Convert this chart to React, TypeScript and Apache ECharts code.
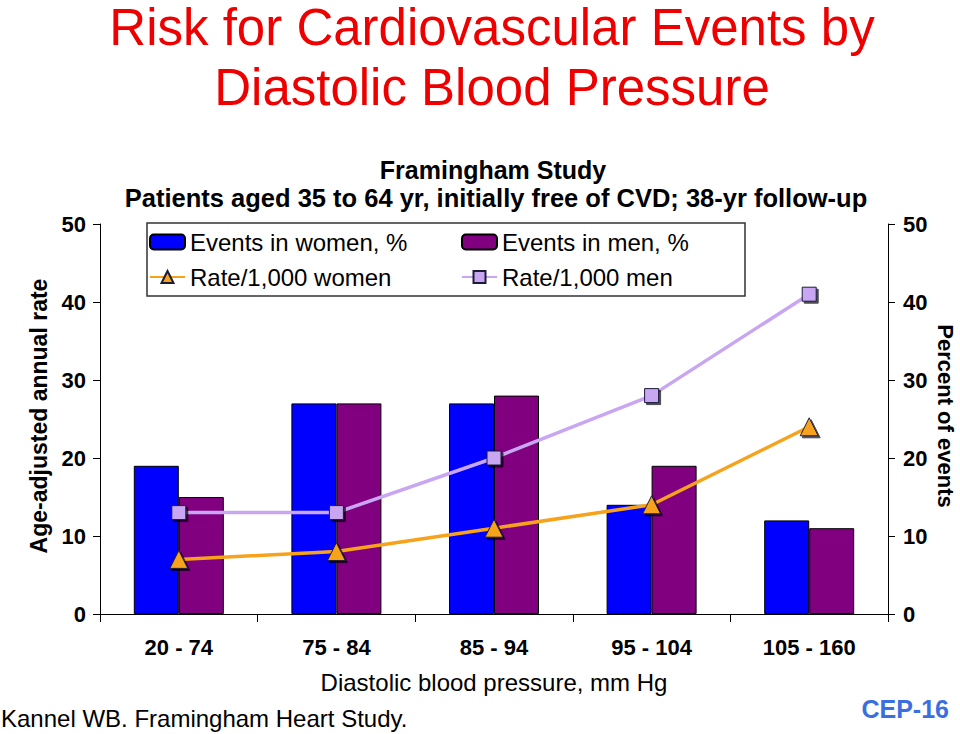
import React, { useEffect, useRef } from "react";
import * as echarts from "echarts";

const categories = ["20 - 74", "75 - 84", "85 - 94", "95 - 104", "105 - 160"];
const eventsWomen = [19, 27, 27, 14, 12];
const eventsMen = [15, 27, 28, 19, 11];
const rateWomen = [7, 8, 11, 14, 24];
const rateMen = [13, 13, 20, 28, 41];

const FONT = "Liberation Sans, Arial, sans-serif";

export default function App() {
  const ref = useRef<HTMLDivElement>(null);
  useEffect(() => {
    document.body.style.margin = "0";
    const chart = echarts.init(ref.current!, null, { renderer: "svg" });
    const markerShadow = {
      shadowColor: "rgba(0,0,0,0.7)",
      shadowOffsetX: 2,
      shadowOffsetY: 2,
      shadowBlur: 0,
    };
    const legendBase = {
      orient: "horizontal",
      itemWidth: 35,
      itemHeight: 15,
      itemGap: 8,
      textStyle: { fontFamily: FONT, fontSize: 24, color: "#000" },
      padding: 0,
    };
    chart.setOption({
      animation: false,
      backgroundColor: "#fff",
      grid: { left: 100, right: 72, top: 224, bottom: 120, containLabel: false },
      legend: [
        { ...legendBase, left: 149, top: 230, data: ["Events in women, %"] },
        { ...legendBase, left: 461, top: 230, data: ["Events in men, %"] },
        { ...legendBase, left: 149, top: 265, data: ["Rate/1,000 women"] },
        { ...legendBase, left: 461, top: 265, data: ["Rate/1,000 men"] },
      ],
      xAxis: {
        type: "category",
        data: categories,
        axisLine: { lineStyle: { color: "#000", width: 1 } },
        axisTick: { show: true, length: 8, lineStyle: { color: "#000" } },
        axisLabel: {
          color: "#000",
          fontFamily: FONT,
          fontSize: 22,
          fontWeight: "bold",
          margin: 22,
        },
      },
      yAxis: [
        {
          type: "value",
          min: 0,
          max: 50,
          interval: 10,
          position: "left",
          axisLine: { show: true, lineStyle: { color: "#000" } },
          axisTick: { show: true, length: 7, lineStyle: { color: "#000" } },
          axisLabel: {
            color: "#000",
            fontFamily: FONT,
            fontSize: 22,
            fontWeight: "bold",
            margin: 14,
          },
          splitLine: { show: false },
        },
        {
          type: "value",
          min: 0,
          max: 50,
          interval: 10,
          position: "right",
          axisLine: { show: true, lineStyle: { color: "#000" } },
          axisTick: { show: true, length: 7, lineStyle: { color: "#000" } },
          axisLabel: {
            color: "#000",
            fontFamily: FONT,
            fontSize: 22,
            fontWeight: "bold",
            margin: 15,
          },
          splitLine: { show: false },
        },
      ],
      series: [
        {
          name: "Events in women, %",
          type: "bar",
          yAxisIndex: 1,
          data: eventsWomen,
          barWidth: 45,
          barGap: "0%",
          itemStyle: { color: "#0000FF", borderColor: "#000", borderWidth: 1 },
        },
        {
          name: "Events in men, %",
          type: "bar",
          yAxisIndex: 1,
          data: eventsMen,
          barWidth: 45,
          barGap: "0%",
          itemStyle: { color: "#800080", borderColor: "#000", borderWidth: 1 },
        },
        {
          name: "Rate/1,000 women",
          type: "line",
          yAxisIndex: 0,
          data: rateWomen,
          symbol: "triangle",
          symbolSize: 18,
          z: 5,
          lineStyle: { color: "#F7A21B", width: 3.5 },
          itemStyle: {
            color: "#F7A21B",
            borderColor: "#1b1b3a",
            borderWidth: 1,
            ...markerShadow,
          },
        },
        {
          name: "Rate/1,000 men",
          type: "line",
          yAxisIndex: 0,
          data: rateMen,
          symbol: "rect",
          symbolSize: 14,
          z: 5,
          lineStyle: { color: "#C9A6F2", width: 3.5 },
          itemStyle: {
            color: "#C9A6F2",
            borderColor: "#1b1b3a",
            borderWidth: 1,
            ...markerShadow,
          },
        },
      ],
      graphic: [
        {
          type: "text",
          x: 492,
          y: 57,
          style: {
            text: "Risk for Cardiovascular Events by\nDiastolic Blood Pressure",
            fill: "#EE0000",
            font: `51px ${FONT}`,
            lineHeight: 60,
            align: "center",
            verticalAlign: "middle",
          },
        },
        {
          type: "text",
          x: 493,
          y: 170,
          style: {
            text: "Framingham Study",
            fill: "#000",
            font: `bold 25px ${FONT}`,
            align: "center",
            verticalAlign: "middle",
          },
        },
        {
          type: "text",
          x: 496,
          y: 198,
          style: {
            text: "Patients aged 35 to 64 yr, initially free of CVD; 38-yr follow-up",
            fill: "#000",
            font: `bold 25.5px ${FONT}`,
            align: "center",
            verticalAlign: "middle",
          },
        },
        {
          type: "rect",
          shape: { x: 147, y: 223, width: 598, height: 73 },
          style: { fill: "none", stroke: "#333", lineWidth: 1.5 },
          z: 10,
        },
        {
          type: "text",
          x: 39,
          y: 416,
          rotation: Math.PI / 2,
          style: {
            text: "Age-adjusted annual rate",
            fill: "#000",
            font: `bold 23px ${FONT}`,
            align: "center",
            verticalAlign: "middle",
          },
        },
        {
          type: "text",
          x: 945,
          y: 416,
          rotation: -Math.PI / 2,
          style: {
            text: "Percent of events",
            fill: "#000",
            font: `bold 22px ${FONT}`,
            align: "center",
            verticalAlign: "middle",
          },
        },
        {
          type: "text",
          x: 494,
          y: 682,
          style: {
            text: "Diastolic blood pressure, mm Hg",
            fill: "#000",
            font: `24px ${FONT}`,
            align: "center",
            verticalAlign: "middle",
          },
        },
        {
          type: "text",
          x: 1,
          y: 718,
          style: {
            text: "Kannel WB. Framingham Heart Study.",
            fill: "#000",
            font: `24px ${FONT}`,
            align: "left",
            verticalAlign: "middle",
          },
        },
        {
          type: "text",
          x: 949,
          y: 709,
          style: {
            text: "CEP-16",
            fill: "#3A6FE0",
            font: `bold 25px ${FONT}`,
            align: "right",
            verticalAlign: "middle",
          },
        },
      ],
    });
    return () => chart.dispose();
  }, []);
  return (
    <div
      ref={ref}
      style={{ position: "fixed", left: 0, top: 0, width: 960, height: 734 }}
    />
  );
}
